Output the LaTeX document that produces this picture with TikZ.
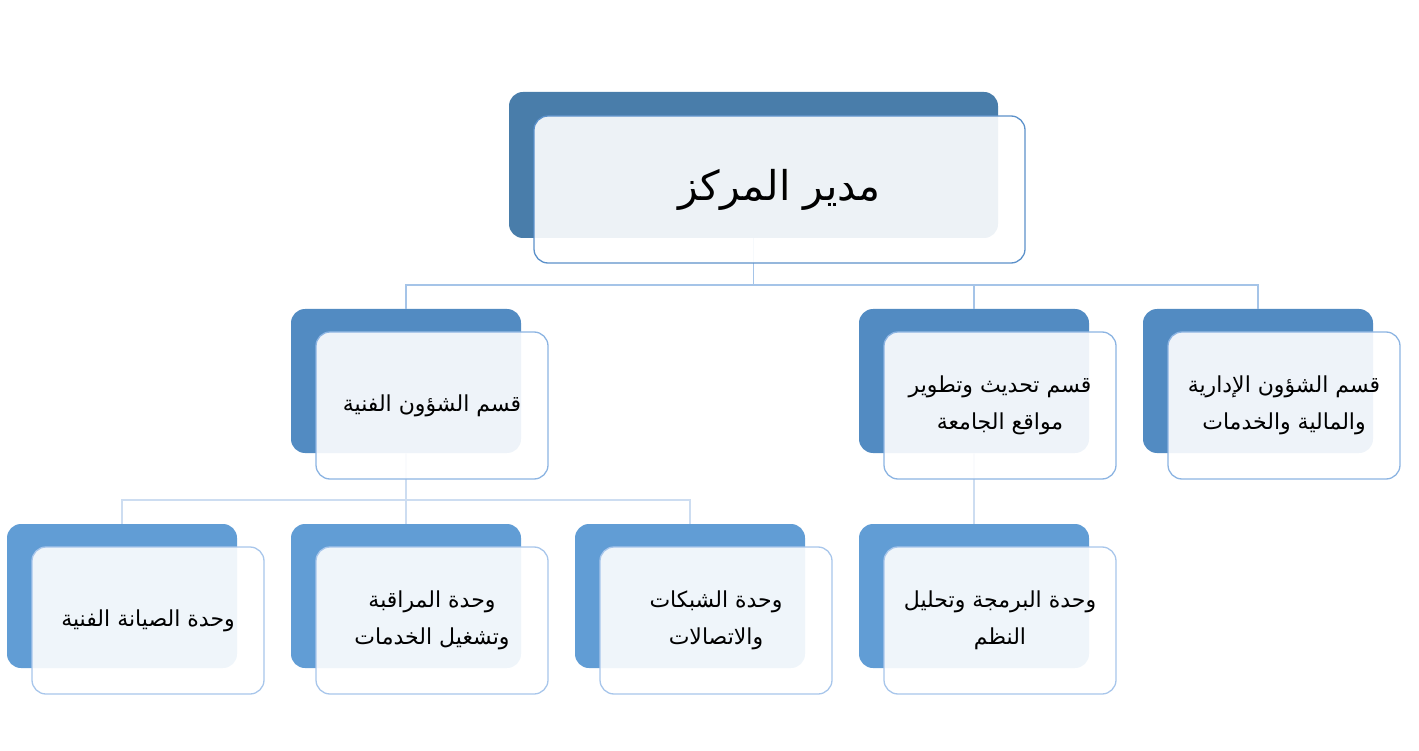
\documentclass[tikz,border=0pt]{standalone}
\usepackage{fontspec}
\TeXXeTstate=1
\newfontfamily\arabicfont[Script=Arabic]{DejaVu Sans}
\definecolor{backA}{RGB}{73,125,170}
\definecolor{backB}{RGB}{82,139,194}
\definecolor{backC}{RGB}{97,157,213}
\definecolor{edgeA}{RGB}{92,145,202}
\definecolor{edgeB}{RGB}{140,180,226}
\definecolor{edgeC}{RGB}{168,198,235}
\definecolor{connA}{RGB}{165,196,232}
\definecolor{connB}{RGB}{205,221,241}
\begin{document}
\begin{tikzpicture}[x=1pt,y=-1pt,
  backbox/.style={rectangle,rounded corners=14pt,inner sep=0pt,draw=none},
  frontbox/.style={rectangle,rounded corners=14pt,inner sep=0pt,fill=white,fill opacity=0.9,text opacity=1,line width=1.3pt,align=center,font=\arabicfont},
  smalltext/.style={font=\arabicfont\fontsize{22}{37}\selectfont},
  conn/.style={line width=1.8pt},
]
\useasboundingbox (0,0) rectangle (1419,751);
% back boxes
\node[backbox,fill=backA,minimum width=489pt,minimum height=146pt] (topB) at (753.5,165) {};
\foreach \n/\x in {b2a/406,b2b/974,b2c/1258}{
  \node[backbox,fill=backB,minimum width=230pt,minimum height=144pt] (\n) at (\x,381) {};}
\foreach \n/\x in {b3a/122,b3b/406,b3c/690,b3d/974}{
  \node[backbox,fill=backC,minimum width=230pt,minimum height=144pt] (\n) at (\x,596) {};}
% connectors
\coordinate (j1) at (753.5,285);
\coordinate (j2) at (406,500);
\draw[conn,connA] (topB.south) -- (j1) -| (b2a.north);
\draw[conn,connA] (j1) -| (b2b.north);
\draw[conn,connA] (j1) -| (b2c.north);
\draw[conn,connB] (b2a.south) -- (j2) -| (b3a.north);
\draw[conn,connB] (j2) -- (b3b.north);
\draw[conn,connB] (j2) -| (b3c.north);
\draw[conn,connB] (b2b.south) -- (b3d.north);
% front boxes
\node[frontbox,draw=edgeA,minimum width=491pt,minimum height=147pt,font=\arabicfont\fontsize{41}{48}\selectfont] (topF) at (779.5,189.5) {\beginR مدير المركز\endR};
\node[frontbox,draw=edgeB,minimum width=232pt,minimum height=147pt,smalltext] (f2a) at (432,405.5) {\beginR قسم الشؤون الفنية\endR};
\node[frontbox,draw=edgeB,minimum width=232pt,minimum height=147pt,smalltext] (f2b) at (1000,405.5) {\beginR قسم تحديث وتطوير\endR\\\beginR مواقع الجامعة\endR};
\node[frontbox,draw=edgeB,minimum width=232pt,minimum height=147pt,smalltext] (f2c) at (1284,405.5) {\beginR قسم الشؤون الإدارية\endR\\\beginR والمالية والخدمات\endR};
\node[frontbox,draw=edgeC,minimum width=232pt,minimum height=147pt,smalltext] (f3a) at (148,620.5) {\beginR وحدة الصيانة الفنية\endR};
\node[frontbox,draw=edgeC,minimum width=232pt,minimum height=147pt,smalltext] (f3b) at (432,620.5) {\beginR وحدة المراقبة\endR\\\beginR وتشغيل الخدمات\endR};
\node[frontbox,draw=edgeC,minimum width=232pt,minimum height=147pt,smalltext] (f3c) at (716,620.5) {\beginR وحدة الشبكات\endR\\\beginR والاتصالات\endR};
\node[frontbox,draw=edgeC,minimum width=232pt,minimum height=147pt,smalltext] (f3d) at (1000,620.5) {\beginR وحدة البرمجة وتحليل\endR\\\beginR النظم\endR};
\end{tikzpicture}
\end{document}
